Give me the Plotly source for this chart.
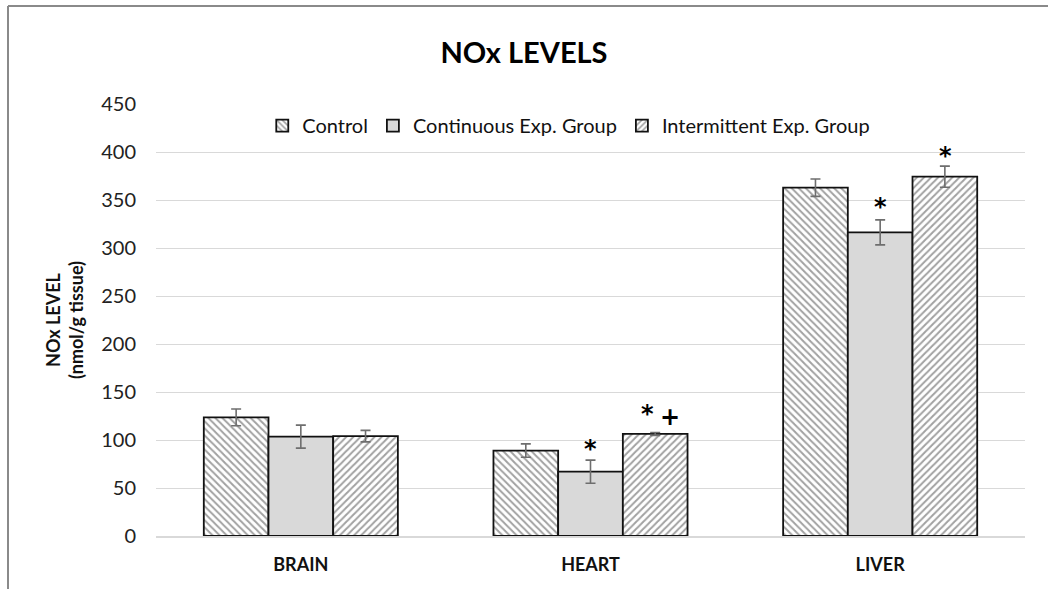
import plotly.graph_objects as go

categories = ["BRAIN", "HEART", "LIVER"]
control = [123.6, 89, 362.8]
control_err = [8.7, 7, 9]
continuous = [103.5, 67, 316.3]
continuous_err = [12, 12, 13]
intermittent = [104, 106.3, 374.3]
intermittent_err = [6, 1.5, 11]
y_ticks = [0, 50, 100, 150, 200, 250, 300, 350, 400, 450]

# significance marks: (category index, x offset in px, y value, text)
marks = [
    (1, 0, 74, "*"),
    (1, 57, 110, "*"),
    (1, 79, 107, "+"),
    (2, 0, 326, "*"),
    (2, 65, 379, "*"),
]

err_style = dict(type="data", color="#6e6e6e", thickness=1.6, width=5)
fig = go.Figure()
fig.add_trace(go.Bar(
    name="Control", x=categories, y=control,
    error_y=dict(array=control_err, **err_style),
    marker=dict(color="white", line=dict(color="#111", width=1.8),
                pattern=dict(shape="\\", fgcolor="#444", bgcolor="white", size=5, solidity=0.4)),
))
fig.add_trace(go.Bar(
    name="Continuous Exp. Group", x=categories, y=continuous,
    error_y=dict(array=continuous_err, **err_style),
    marker=dict(color="#d9d9d9", line=dict(color="#111", width=1.8)),
))
fig.add_trace(go.Bar(
    name="Intermittent Exp. Group", x=categories, y=intermittent,
    error_y=dict(array=intermittent_err, **err_style),
    marker=dict(color="white", line=dict(color="#111", width=1.8),
                pattern=dict(shape="/", fgcolor="#444", bgcolor="white", size=5, solidity=0.4)),
))

for ci, off, yv, txt in marks:
    fig.add_annotation(x=ci, xshift=off, y=yv, text="<b>%s</b>" % txt,
                       showarrow=False, font=dict(size=24, color="black", family="DejaVu Sans"),
                       yanchor="bottom", xanchor="center")

# outer frame (top and left edges)
fig.add_shape(type="line", xref="paper", yref="paper",
              x0=(8 - 156) / 869, x1=(1048 - 156) / 869, y0=(536 - 6) / 432, y1=(536 - 6) / 432,
              line=dict(color="#8a8a8a", width=2))
fig.add_shape(type="line", xref="paper", yref="paper",
              x0=(8 - 156) / 869, x1=(8 - 156) / 869, y0=(536 - 6) / 432, y1=(536 - 589) / 432,
              line=dict(color="#8a8a8a", width=2))

fig.update_layout(
    width=1048, height=589,
    margin=dict(l=156, r=23, t=104, b=53),
    paper_bgcolor="white", plot_bgcolor="white",
    barmode="group", bargap=0.33, bargroupgap=0,
    font=dict(family="Lato", color="#222"),
    title=dict(text="<b>NOx LEVELS</b>", x=0.5, xanchor="center", y=0.91, yanchor="middle",
               font=dict(size=29, color="black", family="Lato")),
    legend=dict(orientation="h", x=0.475, xanchor="center", y=0.95, yanchor="middle",
                font=dict(size=20, color="#111"), bgcolor="rgba(255,255,255,0)",
                itemwidth=30, traceorder="normal"),
    xaxis=dict(tickfont=dict(size=18, color="#111"),
               tickvals=categories, ticktext=["<b>%s</b>" % c for c in categories],
               showline=True, linecolor="#d9d9d9", linewidth=1.5, ticks="", showgrid=False,
               ticklabelstandoff=12),
    yaxis=dict(range=[0, 450], tickvals=y_ticks, tickfont=dict(size=20, color="#222"),
               gridcolor="#d9d9d9", gridwidth=1.2, zeroline=False, ticks="", ticklen=0,
               ticklabelstandoff=19,
               title=dict(text="<b>NOx LEVEL<br>(nmol/g tissue)</b>", font=dict(size=18, color="#111"), standoff=12)),
)

fig.write_html("out.html", config={"displayModeBar": False},
               post_script="document.body.style.margin='0px';")
